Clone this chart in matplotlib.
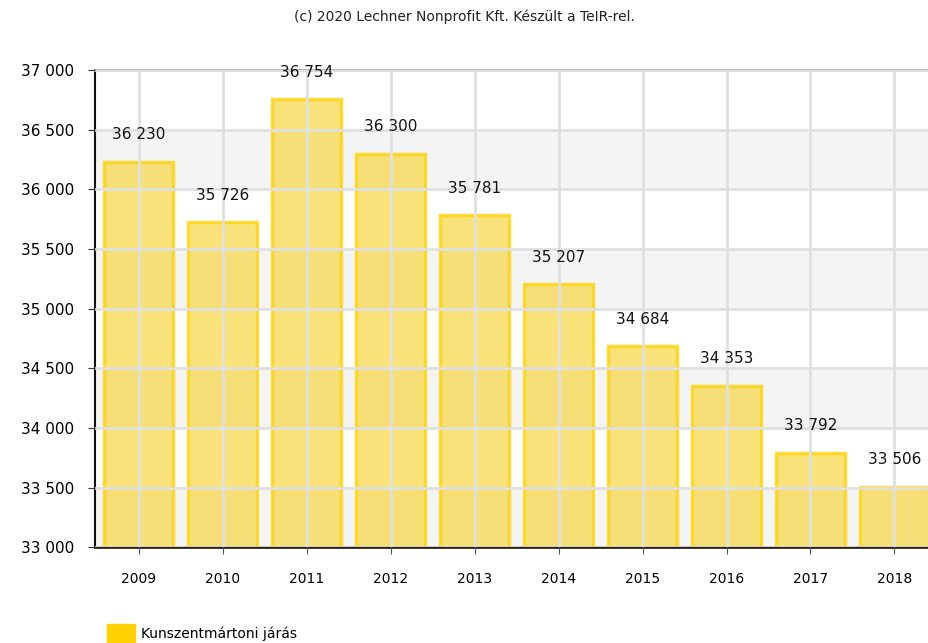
import matplotlib.pyplot as plt
from matplotlib.patches import Patch
from matplotlib.ticker import FuncFormatter

YEARS = ["2009", "2010", "2011", "2012", "2013", "2014", "2015", "2016", "2017", "2018"]
POPULATION = [36230, 35726, 36754, 36300, 35781, 35207, 34684, 34353, 33792, 33506]
SERIES_NAME = "Kunszentmártoni járás"
TITLE = "(c) 2020 Lechner Nonprofit Kft. Készült a TeIR-rel."
Y_TICKS = list(range(33000, 37001, 500))


def space_thousands(v, _pos=None):
    return f"{int(v):,}".replace(",", " ")


fig = plt.figure(figsize=(9.29, 6.43), dpi=100)
ax = fig.add_axes([0.102, 0.149, 0.906, 0.742])

# alternating bands
for i, lo in enumerate(Y_TICKS[:-1]):
    if i % 2 == 0:
        ax.axhspan(lo, lo + 500, color="#f4f4f4", zorder=0, lw=0)

x = list(range(len(YEARS)))
ax.bar(x, POPULATION, width=0.82, color="#f7d94c", alpha=0.75,
       edgecolor="#ffd200", linewidth=2.5, zorder=2)

for xi, v in zip(x, POPULATION):
    ax.annotate(space_thousands(v), (xi, v), xytext=(0, 14), textcoords="offset points",
                ha="center", va="bottom", fontsize=11, color="#111111", zorder=5)

ax.set_ylim(33000, 37000)
ax.set_xlim(-0.525, 9.5)
ax.set_yticks(Y_TICKS)
ax.yaxis.set_major_formatter(FuncFormatter(space_thousands))
ax.set_xticks(x)
ax.set_xticklabels(YEARS, fontsize=10)
ax.tick_params(axis="y", labelsize=11, length=5, color="#333333", pad=10)
ax.tick_params(axis="x", length=5, color="#555555", pad=13)

ax.grid(True, color="#e0e0e0", linewidth=2, zorder=3)
ax.set_axisbelow(False)

ax.spines["left"].set_color("#111111")
ax.spines["left"].set_linewidth(1.5)
ax.spines["bottom"].set_color("#2a2410")
ax.spines["bottom"].set_linewidth(2)
ax.spines["top"].set_color("#aaaaaa")
ax.spines["top"].set_linewidth(2)
ax.spines["right"].set_visible(False)

fig.text(0.5, 0.974, TITLE, ha="center", va="center", fontsize=10, color="#222222")

handle = Patch(facecolor="#ffd200", edgecolor="#ffd200", label=SERIES_NAME)
fig.legend(handles=[handle], loc="lower left", bbox_to_anchor=(0.102, -0.02), frameon=False,
           handlelength=2.0, handleheight=1.8, handletextpad=0.4, fontsize=10)

fig.savefig("out.png", dpi=100)
